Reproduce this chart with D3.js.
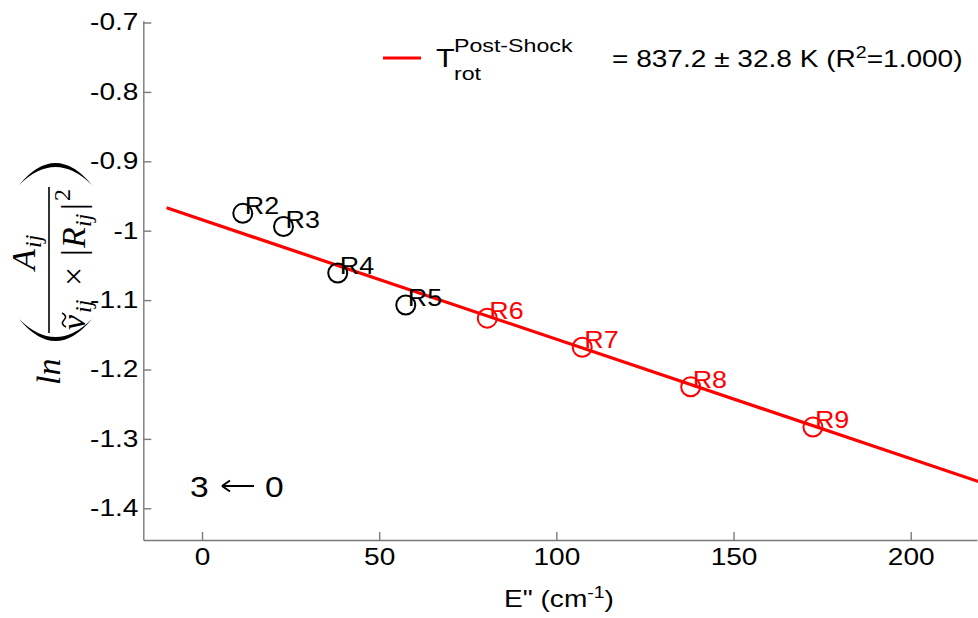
<!DOCTYPE html>
<html><head><meta charset="utf-8">
<script src="https://cdn.jsdelivr.net/npm/d3@7"></script>
<style>body{margin:0;background:#fff}svg{display:block}</style>
</head><body>
<svg id="chart" width="978" height="618"></svg>
<script>
// ---- data ----
const labels  = ["R2","R3","R4","R5","R6","R7","R8","R9"];
const energy  = [11.5, 23.0, 38.3, 57.5, 80.5, 107.3, 137.9, 172.4];
const lnValue = [-0.975, -0.994, -1.061, -1.107, -1.126, -1.168, -1.225, -1.283];
const fitted  = [false, false, false, false, true, true, true, true];
const fitE    = [-10, 220];
const fitVal  = [-0.967, -1.363];
const xTicks  = [0, 50, 100, 150, 200];
const yTicks  = [-0.7, -0.8, -0.9, -1.0, -1.1, -1.2, -1.3, -1.4];
const xDomain = [-16.57, 218.7];
const yDomain = [-1.4457, -0.6974];
const legendLabel = "= 837.2 \u00B1 32.8 K (R";
const legendTail  = "=1.000)";

// ---- setup ----
const SX = 1.22;
const FONT = "'Liberation Sans', Arial, Helvetica, sans-serif";
const SERIF = "'Liberation Serif', 'Times New Roman', serif";
const RED = "#ff0000";
const AXIS = "#7a7a7a";
const svg = d3.select("#chart");

const x = d3.scaleLinear().domain(xDomain).range([143.3, 977]);
const y = d3.scaleLinear().domain(yDomain).range([540, 20.7]);

function stext(px, py, size, anchor, fill, sx) {
  return svg.append("text")
    .attr("transform", `translate(${px},${py}) scale(${sx || SX},1)`)
    .attr("font-family", FONT).attr("font-size", size)
    .attr("text-anchor", anchor || "start").attr("fill", fill || "#000");
}

// ---- axes ----
const gx = svg.append("g").attr("transform", "translate(0,540)")
  .call(d3.axisBottom(x).tickValues(xTicks).tickSizeInner(-8).tickSizeOuter(0)
    .tickPadding(9).tickFormat(d3.format("d")));
const gy = svg.append("g").attr("transform", "translate(143.3,0)")
  .call(d3.axisLeft(y).tickValues(yTicks).tickSizeInner(-8).tickSizeOuter(0)
    .tickPadding(4).tickFormat(d => String(+d.toFixed(1))));
[gx, gy].forEach(g => {
  g.attr("font-family", FONT).attr("font-size", 23);
  g.selectAll("path, line").attr("stroke", AXIS).attr("stroke-width", 1.4);
  g.selectAll("text").attr("fill", "#000").attr("transform", `scale(${SX},1)`);
});

// ---- fit line ----
svg.append("path")
  .datum(fitE.map((e, i) => [e, fitVal[i]]))
  .attr("d", d3.line().x(d => x(d[0])).y(d => y(d[1])))
  .attr("fill", "none").attr("stroke", RED).attr("stroke-width", 3.2);

// ---- points ----
const pts = labels.map((l, i) => ({ l, e: energy[i], v: lnValue[i], f: fitted[i] }));
svg.selectAll("circle.pt").data(pts).enter().append("circle")
  .attr("class", "pt")
  .attr("cx", d => x(d.e)).attr("cy", d => y(d.v)).attr("r", 9.5)
  .attr("fill", "none").attr("stroke", d => d.f ? RED : "#000").attr("stroke-width", 2);
pts.forEach(d => {
  stext(x(d.e) + 2, y(d.v) + 1, 24, "start", d.f ? RED : "#000", 1.12).text(d.l);
});

// ---- legend ----
svg.append("line").attr("x1", 383).attr("x2", 421).attr("y1", 58).attr("y2", 58)
  .attr("stroke", RED).attr("stroke-width", 3.2);
stext(436, 67, 25).text("T");
stext(454, 52, 19).text("Post-Shock");
stext(454, 80, 19).text("rot");
const lt = stext(612, 67, 23);
lt.append("tspan").text(legendLabel);
lt.append("tspan").attr("dy", -9).attr("font-size", 16).text("2");
lt.append("tspan").attr("dy", 9).text(legendTail);

// ---- x label ----
const xl = stext(559, 607, 23, "middle");
xl.append("tspan").text("E\" (cm");
xl.append("tspan").attr("dy", -9).attr("font-size", 16).text("-1");
xl.append("tspan").attr("dy", 9).text(")");

// ---- annotation "3 <- 0" ----
stext(190, 497, 30, "start", "#000", 1.12).text("3");
stext(265, 497, 30, "start", "#000", 1.12).text("0");
svg.append("path").attr("d", "M222,486 H254 M222,486 l8,-5.5 M222,486 l8,5.5")
  .attr("fill", "none").attr("stroke", "#000").attr("stroke-width", 2);

// ---- y label (rotated math) ----
const yl = svg.append("g").attr("transform", "translate(60,385) rotate(-90)");
function mt(u, v, str, size, italic) {
  yl.append("text").attr("x", u).attr("y", v)
    .attr("font-family", SERIF).attr("font-size", size)
    .attr("font-style", italic ? "italic" : "normal").attr("fill", "#000").text(str);
}
mt(0, 0, "ln", 34, true);
// parentheses
yl.append("path").attr("d", "M66,-41 Q22,-4.5 66,32 Q30,-4.5 66,-41 Z").attr("fill", "#000");
yl.append("path").attr("d", "M200,-41 Q244,-4.5 200,32 Q236,-4.5 200,-41 Z").attr("fill", "#000");
// fraction bar
yl.append("line").attr("x1", 52).attr("x2", 198).attr("y1", -11).attr("y2", -11)
  .attr("stroke", "#000").attr("stroke-width", 1.6);
// numerator
mt(115, -25, "A", 34, true);
mt(137, -19, "ij", 24, true);
// denominator
mt(55, 25, "\u03BD", 34, true);
yl.append("path").attr("d", "M58,6 Q61,0 65,4 Q69,8 72,2").attr("fill", "none")
  .attr("stroke", "#000").attr("stroke-width", 1.6);
mt(72, 31, "ij", 24, true);
mt(99, 25, "\u00D7", 34, false);
mt(129, 25, "|", 34, false);
mt(137, 25, "R", 34, true);
mt(158, 31, "ij", 24, true);
mt(175, 25, "|", 34, false);
mt(184, 10, "2", 24, false);
</script>
</body></html>
